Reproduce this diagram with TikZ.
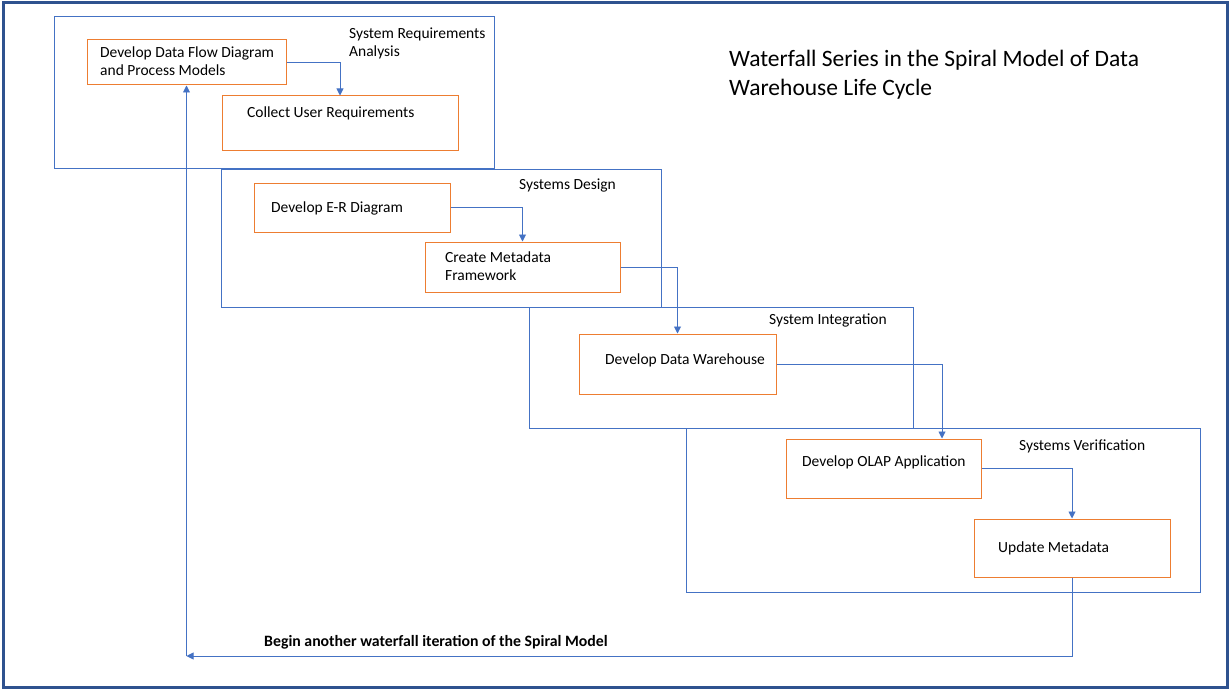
\documentclass[tikz,border=0pt]{standalone}
\usepackage{fontspec}
\setmainfont{Carlito}
\usetikzlibrary{arrows.meta}
\definecolor{frameblue}{HTML}{2F528F}
\definecolor{stageblue}{HTML}{4472C4}
\definecolor{taskorange}{HTML}{ED7D31}
\tikzset{
	stage/.style={draw=stageblue, line width=1pt, inner sep=0pt},
	task/.style={draw=taskorange, line width=1pt, inner sep=0pt},
	txt/.style={anchor=west, inner sep=0pt, align=left, font=\fontsize{15.5}{18}\selectfont},
	flow/.style={draw=stageblue, line width=0.9pt, -{Triangle[length=7pt,width=7pt]}}
}
\begin{document}
\begin{tikzpicture}[x=1pt,y=-1pt]
	\useasboundingbox (0,0) rectangle (1230,690);
	\draw[frameblue, line width=3pt] (3,3) rectangle (1227,687);

	\node[stage, minimum width=440pt, minimum height=151pt] (sra) at (274,92.5) {};
	\node[stage, minimum width=440pt, minimum height=138pt] (sd) at (441,238) {};
	\node[stage, minimum width=384pt, minimum height=121pt] (si) at (721,367.5) {};
	\node[stage, minimum width=514pt, minimum height=164pt] (sv) at (943,510) {};

	\node[txt] (sralabel) at (349,43) {System Requirements\\Analysis};
	\node[txt] (sdlabel) at (519,185) {Systems Design};
	\node[txt] (silabel) at (769,320) {System Integration};
	\node[txt] (svlabel) at (1019,446) {Systems Verification};

	\node[task, minimum width=199pt, minimum height=45pt] (dfd) at (186.5,62.5) {};
	\node[txt] (dfdtext) at (100,61) {Develop Data Flow Diagram\\and Process Models};
	\node[task, minimum width=236pt, minimum height=54pt] (cur) at (340,123) {};
	\node[txt] (curtext) at (247,113) {Collect User Requirements};

	\node[task, minimum width=196pt, minimum height=49pt] (erd) at (352,207.5) {};
	\node[txt] (erdtext) at (271,208) {Develop E-R Diagram};
	\node[task, minimum width=195pt, minimum height=50pt] (cmf) at (522.5,267) {};
	\node[txt] (cmftext) at (445,266) {Create Metadata\\Framework};

	\node[task, minimum width=197pt, minimum height=60pt] (ddw) at (677.5,364) {};
	\node[txt] (ddwtext) at (605,360) {Develop Data Warehouse};

	\node[task, minimum width=195pt, minimum height=59pt] (olap) at (883.5,468.5) {};
	\node[txt] (olaptext) at (802,462) {Develop OLAP Application};
	\node[task, minimum width=196pt, minimum height=58pt] (upd) at (1072,548) {};
	\node[txt] (updtext) at (998,548) {Update Metadata};

	\draw[flow] (dfd.east) -| (cur.north);
	\draw[flow] (erd.east) -| (cmf.north);
	\draw[flow] (cmf.east) -| (ddw.north);
	\draw[flow] (ddw.east) -| ([xshift=58.5pt]olap.north);
	\draw[flow] (olap.east) -| (upd.north);

	\coordinate (back) at (186.5,656);
	\draw[flow] (upd.south) |- (back);
	\draw[flow] (back) -- (dfd.south);
	\node[txt, font=\fontsize{15.8}{18}\selectfont\bfseries] (backtext) at (264,642) {Begin another waterfall iteration of the Spiral Model};

	\node[txt, font=\fontsize{23.5}{29.5}\selectfont] (title) at (729,74.5) {Waterfall Series in the Spiral Model of Data\\Warehouse Life Cycle};
\end{tikzpicture}
\end{document}
